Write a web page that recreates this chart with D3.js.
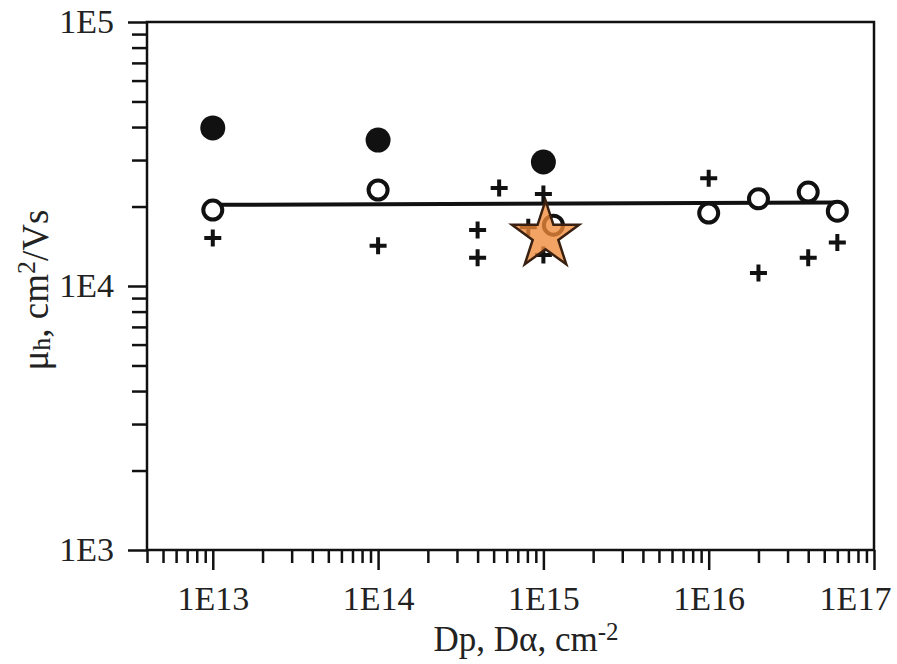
<!DOCTYPE html>
<head>
  <meta charset="utf-8">
  <title>Hall mobility vs dose</title>
</head>
<style>
  body { margin: 0; background: #fff; }
  text { font-family: "Liberation Serif", "DejaVu Serif", serif; fill: #222; }
  .axis path, .axis line { stroke: #111; stroke-width: 2.5px; }
  .axis text { font-size: 34px; fill: #222; }
</style>
<body>
<svg width="897" height="664"></svg>
<script src="https://cdn.jsdelivr.net/npm/d3@7"></script>
<script>
  // dose (cm-2) and mobility (cm2/Vs)
  var filledDose = [1e13, 1e14, 1e15];
  var filledMu   = [39700, 35700, 29500];

  var openDose = [1e13, 1e14, 1.15e15, 1e16, 2e16, 4e16, 6e16];
  var openMu   = [19400, 23100, 17000, 18900, 21400, 22700, 19200];

  var plusDose = [1e13, 1e14, 4e14, 4e14, 5.4e14, 1e15, 8.1e14, 1e15, 1e16, 2e16, 4e16, 6e16];
  var plusMu   = [15200, 14200, 16300, 12800, 23500, 22300, 16700, 13100, 25600, 11200, 12800, 14600];

  var lineDose = [1e13, 6e16];
  var lineMu   = [20300, 20700];

  var starDose = [1.03e15];
  var starMu   = [15500];

  var xTicks = [1e13, 1e14, 1e15, 1e16, 1e17];
  var xTickLabels = ["1E13", "1E14", "1E15", "1E16", "1E17"];
  var yTicks = [1e3, 1e4, 1e5];
  var yTickLabels = ["1E3", "1E4", "1E5"];

  var svg = d3.select('svg');
  var pLeft = 147, pRight = 874, pTop = 22, pBottom = 550;

  var x = d3.scaleLog().domain([4e12, 1e17]).range([pLeft, pRight]);
  var y = d3.scaleLog().domain([1e3, 1e5]).range([pBottom, pTop]);

  // minor ticks 2..9 in each decade
  function minors(lo, hi) {
    var out = [];
    for (var e = Math.floor(Math.log10(lo)); e < Math.ceil(Math.log10(hi)); e++) {
      for (var m = 2; m <= 9; m++) {
        var v = m * Math.pow(10, e);
        if (v >= lo * 0.999 && v <= hi * 1.001) out.push(v);
      }
    }
    return out;
  }

  // frame
  svg.append('rect')
    .attr('x', pLeft).attr('y', pTop)
    .attr('width', pRight - pLeft).attr('height', pBottom - pTop)
    .attr('fill', 'none').attr('stroke', '#111').attr('stroke-width', 2.5);

  // x axis
  svg.append('g').attr('class', 'axis')
    .attr('transform', 'translate(0,' + pBottom + ')')
    .call(d3.axisBottom(x).tickValues(minors(4e12, 1e17)).tickSize(13).tickFormat(''))
    .call(g => g.select('.domain').remove());
  svg.append('g').attr('class', 'axis')
    .attr('transform', 'translate(0,' + pBottom + ')')
    .call(d3.axisBottom(x).tickValues(xTicks).tickSize(20).tickPadding(16)
      .tickFormat((d, i) => xTickLabels[i]))
    .call(g => g.select('.domain').remove())
    .call(g => g.selectAll('.tick:last-of-type text').attr('dx', -19));

  // y axis
  svg.append('g').attr('class', 'axis')
    .attr('transform', 'translate(' + pLeft + ',0)')
    .call(d3.axisLeft(y).tickValues(minors(1e3, 1e5)).tickSize(15).tickFormat(''))
    .call(g => g.select('.domain').remove());
  svg.append('g').attr('class', 'axis')
    .attr('transform', 'translate(' + pLeft + ',0)')
    .call(d3.axisLeft(y).tickValues(yTicks).tickSize(19).tickPadding(14)
      .tickFormat((d, i) => yTickLabels[i]))
    .call(g => g.select('.domain').remove());

  // fit line
  svg.append('line')
    .attr('x1', x(lineDose[0])).attr('y1', y(lineMu[0]))
    .attr('x2', x(lineDose[1])).attr('y2', y(lineMu[1]))
    .attr('stroke', '#111').attr('stroke-width', 4);

  var plot = svg.append('g');

  plot.selectAll('.filled').data(filledDose).enter().append('circle')
    .attr('cx', d => x(d)).attr('cy', (d, i) => y(filledMu[i]))
    .attr('r', 12.5).attr('fill', '#111');

  plot.selectAll('.open').data(openDose).enter().append('circle')
    .attr('cx', d => x(d)).attr('cy', (d, i) => y(openMu[i]))
    .attr('r', 9.5).attr('fill', '#fff').attr('stroke', '#111').attr('stroke-width', 4);

  plot.selectAll('.plus').data(plusDose).enter().append('path')
    .attr('d', (d, i) => {
      var cx = x(d), cy = y(plusMu[i]), s = 8.5;
      return 'M' + (cx - s) + ',' + cy + 'H' + (cx + s) + 'M' + cx + ',' + (cy - s) + 'V' + (cy + s);
    })
    .attr('stroke', '#111').attr('stroke-width', 4).attr('fill', 'none');

  // star marker, translucent so the markers underneath show
  var star = d3.symbol().type(d3.symbolStar).size(1400);
  plot.selectAll('.star').data(starDose).enter().append('path')
    .attr('d', star)
    .attr('transform', (d, i) => 'translate(' + x(d) + ',' + y(starMu[i]) + ')')
    .attr('fill', '#f08a3a').attr('fill-opacity', 0.78)
    .attr('stroke', '#3a2010').attr('stroke-width', 2.5);

  // axis titles
  var xt = svg.append('text')
    .attr('x', 526).attr('y', 651)
    .attr('text-anchor', 'middle').attr('font-size', 35);
  xt.append('tspan').text('Dp, Dα, cm');
  xt.append('tspan').attr('font-size', 25).attr('dy', -11).text('-2');

  var yt = svg.append('text')
    .attr('transform', 'translate(48,290) rotate(-90)')
    .attr('text-anchor', 'middle').attr('font-size', 37);
  yt.append('tspan').text('μ');
  yt.append('tspan').attr('font-size', 26).attr('dy', 2).text('h');
  yt.append('tspan').attr('dy', -2).text(', cm');
  yt.append('tspan').attr('font-size', 26).attr('dy', -13).text('2');
  yt.append('tspan').attr('dy', 13).text('/Vs');
</script>
</body>
